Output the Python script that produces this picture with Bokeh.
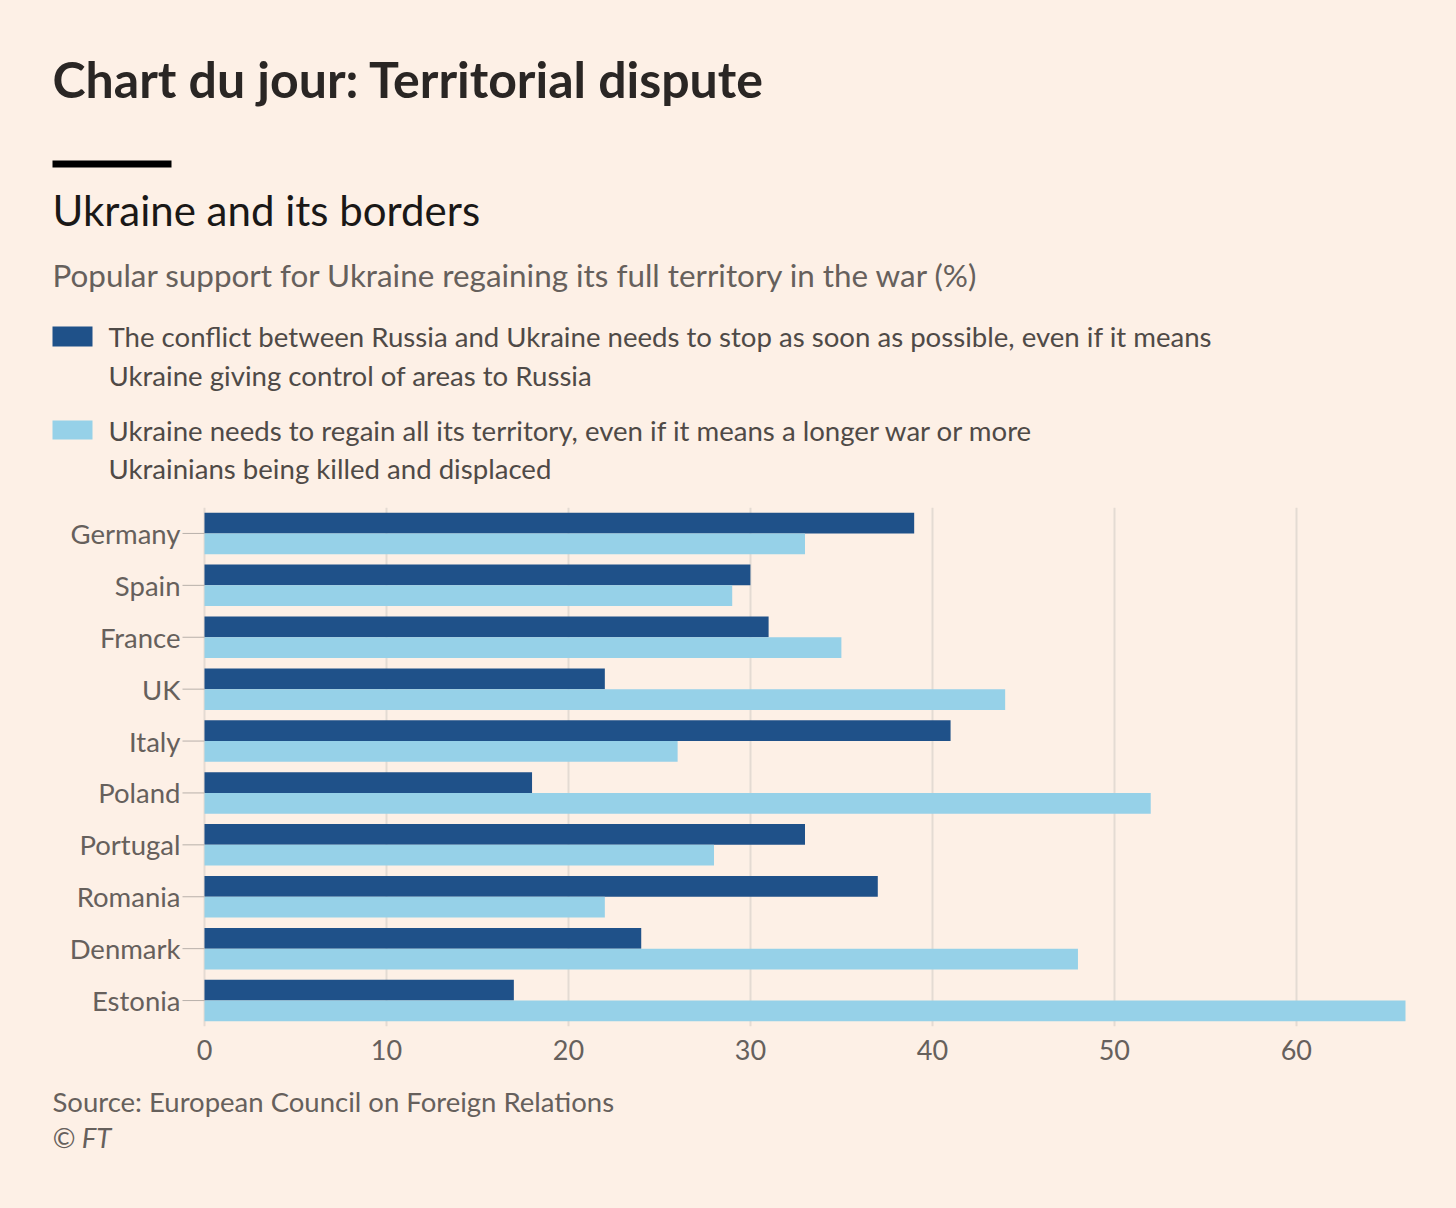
from bokeh.plotting import figure
from bokeh.layouts import column
from bokeh.models import Range1d, FactorRange, ColumnDataSource, FixedTicker
from bokeh.transform import dodge
from bokeh.core.properties import value
from bokeh.embed import file_html
from bokeh.resources import INLINE

# ---------------- data ----------------
countries = ["Germany", "Spain", "France", "UK", "Italy", "Poland",
             "Portugal", "Romania", "Denmark", "Estonia"]
stop_war = [39, 30, 31, 22, 41, 18, 33, 37, 24, 17]
regain_territory = [33, 29, 35, 44, 26, 52, 28, 22, 48, 66]
x_ticks = [0, 10, 20, 30, 40, 50, 60]
x_max = 66

title = "Chart du jour: Territorial dispute"
subtitle = "Ukraine and its borders"
description = "Popular support for Ukraine regaining its full territory in the war (%)"
legend_stop = ["The conflict between Russia and Ukraine needs to stop as soon as possible, even if it means",
               "Ukraine giving control of areas to Russia"]
legend_regain = ["Ukraine needs to regain all its territory, even if it means a longer war or more",
                 "Ukrainians being killed and displaced"]
source_text = "Source: European Council on Foreign Relations"
credit_text = "\u00a9 FT"

# ---------------- style ----------------
BG = "#fdf0e6"
DARK = "#1f5189"
LIGHT = "#96d1e8"
GRID = "#e4dbd3"
TICK = "#b8b0aa"
GREY = "#66605c"
TEXTDARK = "#4f4a47"
FONT = "Lato"
W, H_TOTAL = 1456, 1208
LEFT_PX, RIGHT_PX = 204, 1405          # where 0 and x_max fall on the page
K = (RIGHT_PX - LEFT_PX) / x_max       # pixels per unit


def style_fig(f):
    f.background_fill_color = BG
    f.border_fill_color = BG
    f.outline_line_color = None
    return f


def page_fig(top, h):
    f = figure(width=W, height=h, x_range=Range1d(0, W), y_range=Range1d(top + h, top),
               output_backend="svg", toolbar_location=None,
               x_axis_location=None, y_axis_location=None,
               min_border=0, min_border_left=0, min_border_right=0,
               min_border_top=0, min_border_bottom=0,
               styles={"background-color": BG})
    f.grid.visible = False
    return style_fig(f)


def txt(f, x, y, text, size, color, style="normal"):
    f.text(x=[x], y=[y], text=[text], text_font=value(FONT), text_font_size=size,
           text_color=color, text_font_style=style, text_baseline="middle", text_align="left")


# ---------------- header ----------------
H1 = 497
head = page_fig(0, H1)
txt(head, 52, 78, title, "50px", "#2a2624", "bold")
head.quad(left=[52], right=[171], top=[160], bottom=[167], fill_color="black", line_color=None)
txt(head, 52, 209, subtitle, "42px", "#1a1817")
txt(head, 52, 274, description, "31.4px", GREY)
head.quad(left=[52], right=[92], top=[326], bottom=[346], fill_color=DARK, line_color=None)
head.quad(left=[52], right=[92], top=[420], bottom=[439], fill_color=LIGHT, line_color=None)
txt(head, 108, 336, legend_stop[0], "27.6px", TEXTDARK)
txt(head, 108, 375, legend_stop[1], "27.6px", TEXTDARK)
txt(head, 108, 430, legend_regain[0], "27.6px", TEXTDARK)
txt(head, 108, 468, legend_regain[1], "27.6px", TEXTDARK)

# ---------------- chart ----------------
TOP, FRAME_H, BOTTOM = 10, 519, 50
p = figure(width=W, height=TOP + FRAME_H + BOTTOM,
           y_range=FactorRange(factors=list(reversed(countries)), range_padding=0),
           x_range=Range1d(-LEFT_PX / K, (W - LEFT_PX) / K),
           output_backend="svg", toolbar_location=None, y_axis_location=None,
           min_border_left=0, min_border_right=0,
           min_border_top=TOP, min_border_bottom=BOTTOM,
           styles={"background-color": BG})
style_fig(p)

src = ColumnDataSource(dict(country=countries, stop=stop_war, regain=regain_territory,
                            zero=[0] * len(countries), tick0=[-22 / K] * len(countries),
                            labx=[-24 / K] * len(countries)))
p.hbar(y=dodge("country", 0.2, range=p.y_range), left="zero", right="stop", height=0.4,
       source=src, fill_color=DARK, line_color=None)
p.hbar(y=dodge("country", -0.2, range=p.y_range), left="zero", right="regain", height=0.4,
       source=src, fill_color=LIGHT, line_color=None)

# category axis: tick marks and labels
p.segment(x0="tick0", x1="zero", y0="country", y1="country", source=src,
          line_color=TICK, line_width=1)
p.text(x="labx", y="country", text="country", source=src, text_font=value(FONT),
       text_font_size="27.5px", text_color=GREY, text_align="right", text_baseline="middle")

p.ygrid.visible = False
p.xgrid.grid_line_color = GRID
p.xgrid.grid_line_width = 2
p.xaxis.ticker = FixedTicker(ticks=x_ticks)
p.xaxis.axis_line_color = None
p.xaxis.major_tick_line_color = None
p.xaxis.minor_tick_line_color = None
p.xaxis.major_label_standoff = 7
p.xaxis.major_label_text_font = FONT
p.xaxis.major_label_text_font_size = "27px"
p.xaxis.major_label_text_color = GREY

# ---------------- footer ----------------
top3 = H1 + TOP + FRAME_H + BOTTOM
H3 = H_TOTAL - top3
foot = page_fig(top3, H3)
txt(foot, 52, 1101, source_text, "27.5px", GREY)
txt(foot, 52, 1137, credit_text, "27.5px", GREY, "italic")

layout = column(head, p, foot, spacing=0, styles={"background-color": BG})
html = file_html(layout, INLINE)
html = html.replace("<body>", '<body style="background:%s;">' % BG, 1)
open("out.html", "w").write(html)
